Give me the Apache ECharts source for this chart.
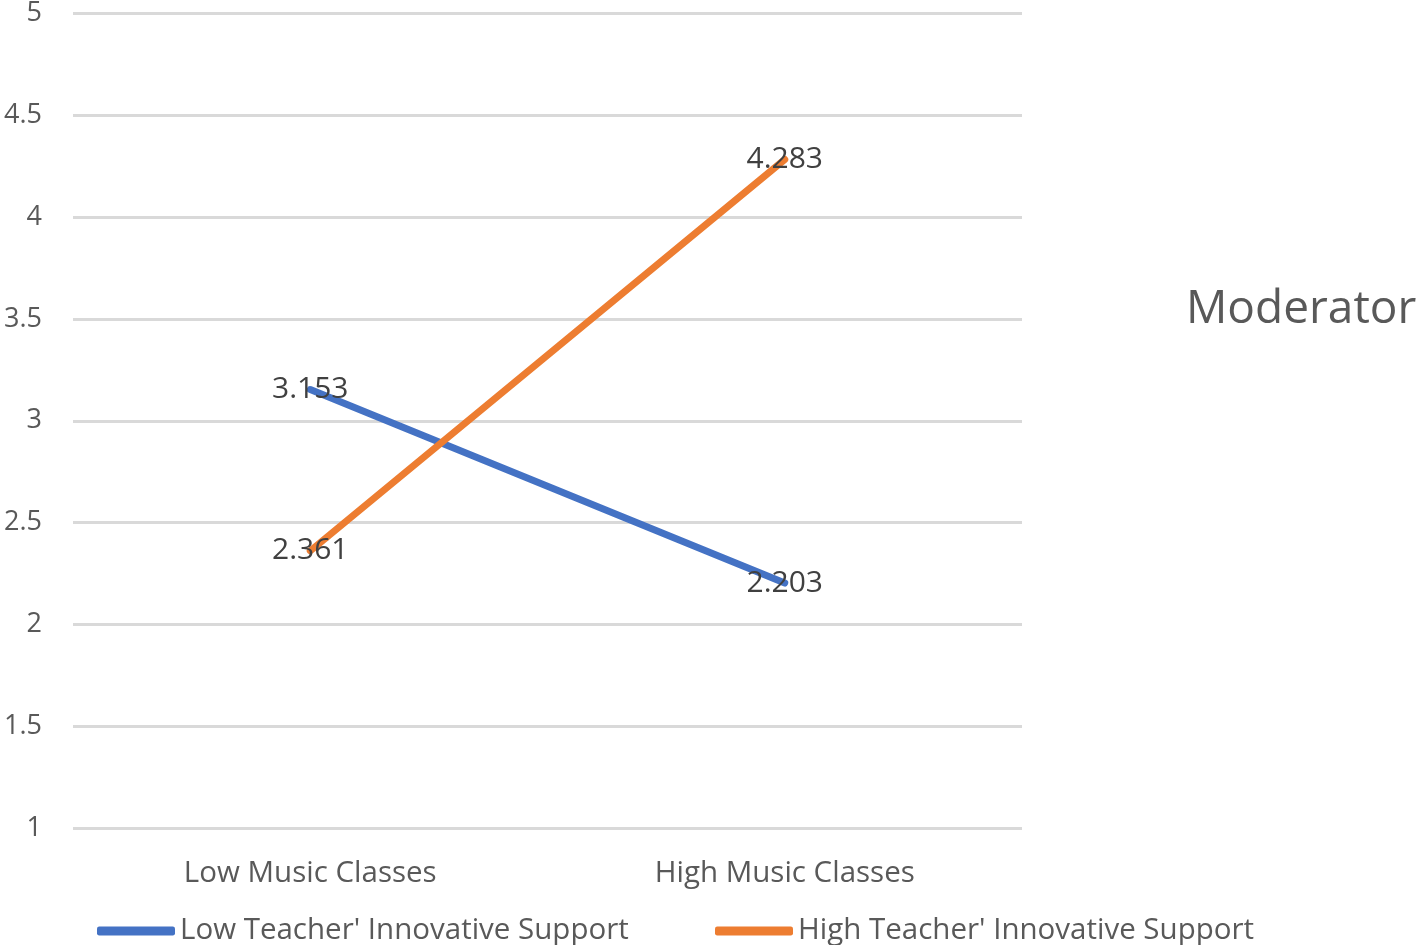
<!DOCTYPE html>
<html>
<head>
<meta charset="utf-8">
<script src="https://cdn.jsdelivr.net/npm/echarts@6/dist/echarts.min.js"></script>
<style>html,body{margin:0;padding:0;background:#fff}#c{width:1417px;height:945px}</style>
</head>
<body>
<div id="c"></div>
<script>
const categories = ['Low Music Classes', 'High Music Classes'];
const seriesNames = ["Low Teacher' Innovative Support", "High Teacher' Innovative Support"];
const lowSupport = [3.153, 2.203];
const highSupport = [2.361, 4.283];
const yTicks = [1, 1.5, 2, 2.5, 3, 3.5, 4, 4.5, 5];

const FONT = 'Open Sans';
const chart = echarts.init(document.getElementById('c'));
function mk(name, data, color) {
  return {
    name: name, type: 'line', data: data,
    symbol: 'circle', symbolSize: 0.1, showSymbol: true,
    itemStyle: { color: color },
    lineStyle: { color: color, width: 7, cap: 'round' },
    label: { show: true, position: 'inside', color: '#404040', fontSize: 30, fontFamily: FONT,
      formatter: p => p.value.toFixed(3) },
    z: 2
  };
}
chart.setOption({
  animation: false,
  grid: { left: 73, right: 395, top: 11, bottom: 117, containLabel: false },
  xAxis: {
    type: 'category', data: categories, boundaryGap: true,
    axisLine: { show: false }, axisTick: { show: false },
    axisLabel: { color: '#595959', fontSize: 29.5, fontFamily: FONT, margin: 31 }
  },
  yAxis: {
    type: 'value', min: 1, max: 5, interval: 0.5,
    axisLine: { show: false }, axisTick: { show: false },
    axisLabel: { color: '#595959', fontSize: 27, fontFamily: FONT, margin: 31 },
    splitLine: { lineStyle: { color: '#d9d9d9', width: 3 } }
  },
  legend: [
    { data: [seriesNames[0]], left: 97, top: 916, padding: 0, itemWidth: 78, itemHeight: 9, icon: 'roundRect',
      textStyle: { color: '#595959', fontSize: 29.5, fontFamily: FONT } },
    { data: [seriesNames[1]], left: 715, top: 916, padding: 0, itemWidth: 78, itemHeight: 9, icon: 'roundRect',
      textStyle: { color: '#595959', fontSize: 29.5, fontFamily: FONT } }
  ],
  graphic: [{
    type: 'text', left: 1186, top: 287,
    style: { text: 'Moderator', fill: '#595959', fontSize: 46, fontFamily: FONT }
  }],
  series: [
    mk(seriesNames[0], lowSupport, '#4472C4'),
    mk(seriesNames[1], highSupport, '#ED7D31')
  ]
});
</script>
</body>
</html>
